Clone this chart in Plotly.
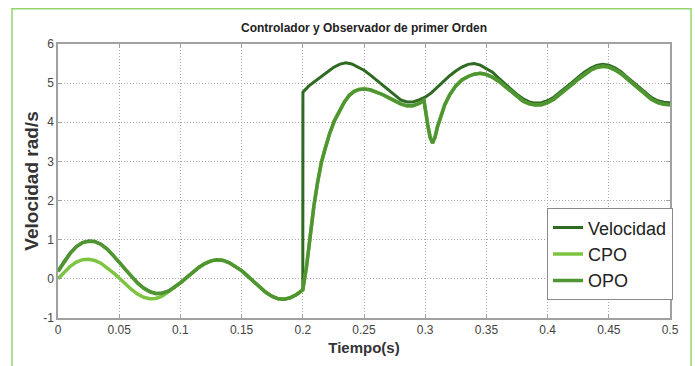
import plotly.graph_objects as go

# ---- data ----
t_vel = [0.000, 0.005, 0.010, 0.015, 0.020, 0.025, 0.030, 0.035, 0.040, 0.045,
         0.050, 0.055, 0.060, 0.065, 0.070, 0.075, 0.080, 0.085, 0.090, 0.095,
         0.100, 0.105, 0.110, 0.115, 0.120, 0.125, 0.130, 0.135, 0.140, 0.145,
         0.150, 0.155, 0.160, 0.165, 0.170, 0.175, 0.180, 0.185, 0.190, 0.195,
         0.200, 0.2001, 0.205, 0.210, 0.215, 0.220, 0.225, 0.230, 0.235, 0.240,
         0.245, 0.250, 0.255, 0.260, 0.265, 0.270, 0.275, 0.280, 0.285, 0.290,
         0.295, 0.300, 0.305, 0.310, 0.315, 0.320, 0.325, 0.330, 0.335, 0.340,
         0.345, 0.350, 0.355, 0.360, 0.365, 0.370, 0.375, 0.380, 0.385, 0.390,
         0.395, 0.400, 0.405, 0.410, 0.415, 0.420, 0.425, 0.430, 0.435, 0.440,
         0.445, 0.450, 0.455, 0.460, 0.465, 0.470, 0.475, 0.480, 0.485, 0.490,
         0.495, 0.500]
velocidad = [0.20, 0.45, 0.66, 0.83, 0.93, 0.97, 0.96, 0.89, 0.77, 0.61,
             0.43, 0.24, 0.06, -0.10, -0.23, -0.32, -0.37, -0.36, -0.31, -0.22,
             -0.10, 0.03, 0.16, 0.29, 0.39, 0.46, 0.49, 0.47, 0.41, 0.32,
             0.21, 0.07, -0.08, -0.22, -0.35, -0.45, -0.51, -0.52, -0.48, -0.40,
             -0.28, 4.77, 4.93, 5.05, 5.18, 5.30, 5.40, 5.48, 5.52, 5.49,
             5.42, 5.33, 5.21, 5.08, 4.95, 4.81, 4.68, 4.57, 4.52, 4.52,
             4.57, 4.64, 4.75, 4.90, 5.05, 5.19, 5.31, 5.41, 5.48, 5.50,
             5.46, 5.38, 5.28, 5.13, 4.98, 4.85, 4.71, 4.60, 4.52, 4.49,
             4.50, 4.55, 4.64, 4.76, 4.89, 5.02, 5.15, 5.28, 5.38, 5.45,
             5.48, 5.46, 5.39, 5.29, 5.15, 5.02, 4.88, 4.75, 4.63, 4.55,
             4.51, 4.50]

t_opo = [0.000, 0.005, 0.010, 0.015, 0.020, 0.025, 0.030, 0.035, 0.040, 0.045,
         0.050, 0.055, 0.060, 0.065, 0.070, 0.075, 0.080, 0.085, 0.090, 0.095,
         0.100, 0.105, 0.110, 0.115, 0.120, 0.125, 0.130, 0.135, 0.140, 0.145,
         0.150, 0.155, 0.160, 0.165, 0.170, 0.175, 0.180, 0.185, 0.190, 0.195,
         0.200, 0.203, 0.206, 0.209, 0.212, 0.215, 0.218, 0.222, 0.226, 0.230,
         0.234, 0.238, 0.242, 0.246, 0.250, 0.255, 0.260, 0.265, 0.270, 0.275,
         0.280, 0.285, 0.290, 0.295, 0.299, 0.302, 0.304, 0.306, 0.308, 0.310,
         0.313, 0.316, 0.320, 0.325, 0.330, 0.335, 0.340, 0.345, 0.350, 0.355,
         0.360, 0.365, 0.370, 0.375, 0.380, 0.385, 0.390, 0.395, 0.400, 0.405,
         0.410, 0.415, 0.420, 0.425, 0.430, 0.435, 0.440, 0.445, 0.450, 0.455,
         0.460, 0.465, 0.470, 0.475, 0.480, 0.485, 0.490, 0.495, 0.500]
opo = [0.19, 0.44, 0.65, 0.82, 0.92, 0.96, 0.95, 0.88, 0.76, 0.60,
       0.42, 0.23, 0.05, -0.11, -0.24, -0.33, -0.38, -0.37, -0.32, -0.22,
       -0.10, 0.03, 0.16, 0.29, 0.39, 0.46, 0.49, 0.47, 0.41, 0.32,
       0.21, 0.07, -0.08, -0.22, -0.35, -0.45, -0.51, -0.52, -0.48, -0.40,
       -0.28, 0.30, 1.08, 1.85, 2.45, 2.95, 3.30, 3.72, 4.05, 4.30,
       4.52, 4.69, 4.79, 4.84, 4.85, 4.83, 4.78, 4.71, 4.63, 4.54,
       4.47, 4.42, 4.42, 4.48, 4.56, 3.95, 3.62, 3.47, 3.62, 3.88,
       4.18, 4.45, 4.70, 4.93, 5.08, 5.17, 5.23, 5.25, 5.22, 5.15,
       5.05, 4.92, 4.78, 4.65, 4.54, 4.47, 4.44, 4.45, 4.50, 4.59,
       4.71, 4.84, 4.97, 5.10, 5.22, 5.33, 5.40, 5.43, 5.41, 5.34,
       5.24, 5.11, 4.97, 4.83, 4.70, 4.58, 4.50, 4.46, 4.45]

# CPO: separate (lower) at the start, then hidden under OPO
t_cpo_early = [0.000, 0.005, 0.010, 0.015, 0.020, 0.025, 0.030, 0.035, 0.040, 0.045,
               0.050, 0.055, 0.060, 0.065, 0.070, 0.075, 0.080, 0.085, 0.090, 0.095]
cpo_early = [0.00, 0.17, 0.32, 0.43, 0.49, 0.50, 0.47, 0.40, 0.29, 0.16,
             0.02, -0.13, -0.27, -0.39, -0.47, -0.51, -0.50, -0.44, -0.34, -0.22]

t_cpo = t_cpo_early + [t for t in t_opo if t >= 0.1]
cpo = cpo_early + [v for t, v in zip(t_opo, opo) if t >= 0.1]

x_ticks = [0, 0.05, 0.1, 0.15, 0.2, 0.25, 0.3, 0.35, 0.4, 0.45, 0.5]
x_tick_text = ["0", "0.05", "0.1", "0.15", "0.2", "0.25", "0.3", "0.35", "0.4", "0.45", "0.5"]
y_ticks = [-1, 0, 1, 2, 3, 4, 5, 6]
y_tick_text = ["-1", "0", "1", "2", "3", "4", "5", "6"]

C_VEL = "#2f6a22"
C_CPO = "#7dc443"
C_OPO = "#4f9632"

fig = go.Figure()
fig.add_trace(go.Scatter(x=t_vel, y=velocidad, name="Velocidad", mode="lines",
                         line=dict(color=C_VEL, width=3)))
fig.add_trace(go.Scatter(x=t_cpo, y=cpo, name="CPO", mode="lines",
                         line=dict(color=C_CPO, width=3.5)))
fig.add_trace(go.Scatter(x=t_opo, y=opo, name="OPO", mode="lines",
                         line=dict(color=C_OPO, width=3.5)))

W, H = 695, 366
L, R, T, B = 58, 25, 44, 42
pw, ph = W - L - R, H - T - B

def px(x):
    return (x - L) / pw

def py(y):
    return (H - B - y) / ph

axis_common = dict(
    showgrid=True, gridcolor="#a8a8a8", griddash="1px,2px", gridwidth=1,
    showline=True, linecolor="#a0a0a0", linewidth=1.5, mirror="ticks",
    ticks="inside", ticklen=4, tickcolor="#a0a0a0",
    zeroline=False,
    tickfont=dict(family="Liberation Sans, Arial, sans-serif", size=12, color="#444444"),
)

fig.update_layout(
    width=W, height=H,
    margin=dict(l=L, r=R, t=T, b=B),
    paper_bgcolor="white", plot_bgcolor="white",
    title=dict(text="<b>Controlador y Observador de primer Orden</b>",
               xref="paper", x=0.5, xanchor="center",
               yref="container", y=1 - 28 / H, yanchor="middle",
               font=dict(family="Liberation Sans, Arial, sans-serif", size=12, color="#222222")),
    xaxis=dict(range=[0, 0.5], tickvals=x_ticks, ticktext=x_tick_text,
               title=dict(text="<b>Tiempo(s)</b>", standoff=6,
                          font=dict(family="Liberation Sans, Arial, sans-serif", size=15, color="#333333")),
               **axis_common),
    yaxis=dict(range=[-1, 6], tickvals=y_ticks, ticktext=y_tick_text,
               title=dict(text="<b>Velocidad rad/s</b>", standoff=0,
                          font=dict(family="Liberation Sans, Arial, sans-serif", size=19, color="#333333")),
               **axis_common),
    legend=dict(x=px(547), y=py(212), xanchor="left", yanchor="top",
                bgcolor="white", bordercolor="#8a8a8a", borderwidth=1,
                font=dict(family="Liberation Sans, Arial, sans-serif", size=18, color="#222222"),
                tracegroupgap=2, itemwidth=30),
    showlegend=True,
    shapes=[dict(type="rect", xref="paper", yref="paper",
                 x0=px(12), x1=px(691), y0=py(380), y1=py(8),
                 line=dict(color="#94d46c", width=1.5), fillcolor="rgba(0,0,0,0)",
                 layer="below")],
)

fig.write_html("out.html")
